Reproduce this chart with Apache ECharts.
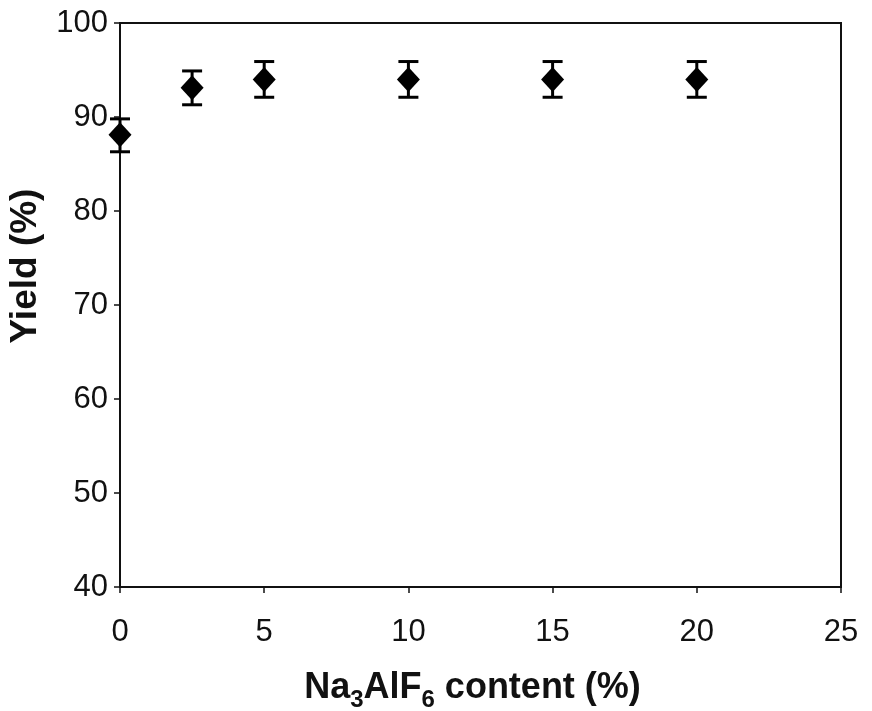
<!DOCTYPE html>
<html>
<head>
<meta charset="utf-8">
<script src="https://cdn.jsdelivr.net/npm/echarts@6/dist/echarts.min.js"></script>
<style>html,body{margin:0;padding:0;background:#fff;overflow:hidden;}#c{width:872px;height:711px;}</style>
</head>
<body>
<div id="c"></div>
<script>
var content = [0, 2.5, 5, 10, 15, 20];
var yieldPct = [88.1, 93.1, 94.0, 94.0, 94.0, 94.0];
var errLow = [86.3, 91.3, 92.1, 92.1, 92.1, 92.1];
var errHigh = [89.8, 94.9, 95.9, 95.9, 95.9, 95.9];
var xTicks = [0, 5, 10, 15, 20, 25];
var yTicks = [40, 50, 60, 70, 80, 90, 100];

var chart = echarts.init(document.getElementById('c'));
var font = 'Liberation Sans, Arial, sans-serif';
var pts = content.map(function (x, i) { return [x, yieldPct[i]]; });
var errs = content.map(function (x, i) { return [x, errLow[i], errHigh[i]]; });

chart.setOption({
  animation: false,
  backgroundColor: '#fff',
  grid: { left: 120, right: 31, top: 23, bottom: 124, containLabel: false, outerBoundsMode: 'none', show: true, borderColor: '#111', borderWidth: 2, backgroundColor: 'transparent' },
  xAxis: {
    type: 'value', min: xTicks[0], max: xTicks[xTicks.length - 1], interval: 5,
    axisLine: { show: true, onZero: false, lineStyle: { color: '#111', width: 2 } },
    axisTick: { show: true, length: 6, lineStyle: { color: '#111', width: 1.5 } },
    splitLine: { show: false },
    axisLabel: { color: '#111', fontSize: 31, fontFamily: font, margin: 30 },
    name: '{n|Na}{s|3}{n|AlF}{s|6}{n| content (%)}',
    nameLocation: 'middle', nameGap: 77,
    nameTextStyle: {
      padding: [0, 16, 0, 0],
      rich: {
        n: { fontSize: 36, fontWeight: 'bold', fontFamily: font, color: '#111', verticalAlign: 'bottom', lineHeight: 42 },
        s: { fontSize: 24, fontWeight: 'bold', fontFamily: font, color: '#111', verticalAlign: 'bottom', lineHeight: 30, padding: [0, 0, -6, 0] }
      }
    }
  },
  yAxis: {
    type: 'value', min: yTicks[0], max: yTicks[yTicks.length - 1], interval: 10,
    axisLine: { show: true, onZero: false, lineStyle: { color: '#111', width: 2 } },
    axisTick: { show: true, length: 6, lineStyle: { color: '#111', width: 1.5 } },
    splitLine: { show: false },
    axisLabel: { color: '#111', fontSize: 31, fontFamily: font, margin: 12 },
    name: 'Yield (%)', nameLocation: 'middle', nameGap: 76,
    nameTextStyle: { fontSize: 37, fontWeight: 'bold', fontFamily: font, color: '#111', padding: [0, 0, 0, 78] }
  },
  series: [
    {
      type: 'custom',
      data: errs,
      clip: false,
      z: 2,
      renderItem: function (params, api) {
        var x = api.value(0);
        var lo = api.coord([x, api.value(1)]);
        var hi = api.coord([x, api.value(2)]);
        var hw = 10;
        var st = { stroke: '#000', lineWidth: 3 };
        return {
          type: 'group',
          children: [
            { type: 'line', shape: { x1: lo[0], y1: lo[1], x2: hi[0], y2: hi[1] }, style: st },
            { type: 'line', shape: { x1: lo[0] - hw, y1: lo[1], x2: lo[0] + hw, y2: lo[1] }, style: st },
            { type: 'line', shape: { x1: hi[0] - hw, y1: hi[1], x2: hi[0] + hw, y2: hi[1] }, style: st }
          ]
        };
      }
    },
    {
      type: 'scatter',
      data: pts,
      symbol: 'diamond',
      symbolSize: [23, 25],
      clip: false,
      z: 3,
      itemStyle: { color: '#000', opacity: 1 }
    }
  ]
});
</script>
</body>
</html>
